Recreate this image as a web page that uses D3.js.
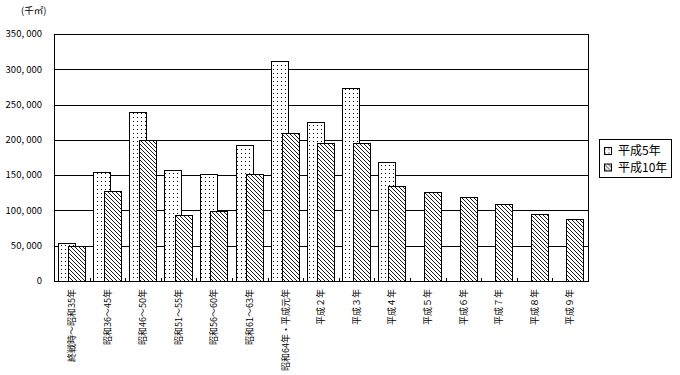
<!DOCTYPE html>
<html>
<head>
<meta charset="utf-8">
<title>chart</title>
<script src="https://cdn.jsdelivr.net/npm/d3@7/dist/d3.min.js"></script>
<style>
  body { margin: 0; background: #fff; }
  text { font-family: "Noto Sans CJK JP", sans-serif; fill: #000; }
</style>
</head>
<body>
<script>
// カテゴリ
var categories = ["終戦時～昭和35年", "昭和36～45年", "昭和46～50年", "昭和51～55年", "昭和56～60年",
  "昭和61～63年", "昭和64年・平成元年", "平成２年", "平成３年", "平成４年",
  "平成５年", "平成６年", "平成７年", "平成８年", "平成９年"];
var seriesNames = ["平成5年", "平成10年"];
// 平成5年 (dotted)
var h5 = [54000, 155000, 239000, 157000, 151000, 193000, 312000, 225000, 273000, 168000,
  null, null, null, null, null];
// 平成10年 (hatched)
var h10 = [49000, 128000, 199500, 93500, 98500, 152000, 210000, 195000, 195000, 134000,
  126000, 119000, 108500, 94500, 87500];
var yTicks = [0, 50000, 100000, 150000, 200000, 250000, 300000, 350000];
var unitLabel = "(千㎡)";

var W = 680, H = 375;
var plot = {left: 54, right: 588, top: 34, bottom: 281};

var svg = d3.select("body").append("svg").attr("width", W).attr("height", H);

var defs = svg.append("defs");
var dots = defs.append("pattern").attr("id", "dots")
  .attr("patternUnits", "userSpaceOnUse").attr("width", 4).attr("height", 4);
dots.append("rect").attr("width", 4).attr("height", 4).attr("fill", "#fff");
dots.append("rect").attr("x", 1).attr("y", 1).attr("width", 1).attr("height", 1).attr("fill", "#000");

var hatch = defs.append("pattern").attr("id", "hatch")
  .attr("patternUnits", "userSpaceOnUse").attr("width", 4).attr("height", 4);
hatch.append("rect").attr("width", 4).attr("height", 4).attr("fill", "#fff");
hatch.append("path").attr("d", "M-1,-1L5,5M3,-1L5,1M-1,3L1,5")
  .attr("stroke", "#000").attr("stroke-width", 0.9);

var x = d3.scaleBand().domain(categories).range([plot.left, plot.right]).padding(0);
var y = d3.scaleLinear().domain([0, 350000]).range([plot.bottom, plot.top]);
var bw = x.bandwidth();

// gridlines
svg.append("g").selectAll("line").data(yTicks).enter().append("line")
  .attr("x1", plot.left).attr("x2", plot.right)
  .attr("y1", function(d){ return Math.round(y(d)) + 0.5; })
  .attr("y2", function(d){ return Math.round(y(d)) + 0.5; })
  .attr("stroke", "#000").attr("stroke-width", 1);

// y tick labels
svg.append("g").selectAll("text").data(yTicks).enter().append("text")
  .attr("x", 42).attr("y", function(d){ return y(d); })
  .attr("dy", "0.35em")
  .attr("text-anchor", "end")
  .attr("font-size", 9.5)
  .text(function(d){ return d3.format(",")(d).replace(/,/g, ", "); });

// bars 平成5年
svg.append("g").selectAll("rect").data(h5).enter()
  .filter(function(d){ return d != null; })
  .append("rect")
  .attr("x", function(d, i){ return Math.round(x(categories[h5.indexOf(d)]) + bw * 0.1) + 0.5; })
  .attr("y", function(d){ return Math.round(y(d)) + 0.5; })
  .attr("width", Math.round(bw * 0.47))
  .attr("height", function(d){ return Math.round(y(0)) - Math.round(y(d)); })
  .attr("fill", "url(#dots)").attr("stroke", "#000").attr("stroke-width", 1);

// bars 平成10年
svg.append("g").selectAll("rect").data(h10).enter().append("rect")
  .attr("x", function(d, i){ return Math.round(x(categories[i]) + bw * 0.395) + 0.5; })
  .attr("y", function(d){ return Math.round(y(d)) + 0.5; })
  .attr("width", Math.round(bw * 0.47))
  .attr("height", function(d){ return Math.round(y(0)) - Math.round(y(d)); })
  .attr("fill", "url(#hatch)").attr("stroke", "#000").attr("stroke-width", 1);

// plot border (left / right / bottom)
svg.append("line").attr("x1", plot.left + 0.5).attr("x2", plot.left + 0.5)
  .attr("y1", y(350000)).attr("y2", y(0) + 1).attr("stroke", "#000");
svg.append("line").attr("x1", plot.right + 0.5).attr("x2", plot.right + 0.5)
  .attr("y1", y(350000)).attr("y2", y(0) + 1).attr("stroke", "#000");

// x ticks (inside, at category boundaries)
svg.append("g").selectAll("line").data(categories.slice(1)).enter().append("line")
  .attr("x1", function(d){ return Math.round(x(d)) + 0.5; })
  .attr("x2", function(d){ return Math.round(x(d)) + 0.5; })
  .attr("y1", Math.round(y(0)) - 3).attr("y2", Math.round(y(0)) + 1)
  .attr("stroke", "#000");

// x labels (rotated)
svg.append("g").selectAll("text").data(categories).enter().append("text")
  .attr("transform", function(d){
    return "translate(" + (x(d) + bw / 2) + "," + 289 + ") rotate(-90)";
  })
  .attr("text-anchor", "end")
  .attr("dy", "0.35em")
  .attr("font-size", 9)
  .text(function(d){ return d; });

// unit
svg.append("text").attr("x", 21).attr("y", 11).attr("dy", "0.35em")
  .attr("font-size", 9.5).text(unitLabel);

// legend
var lg = svg.append("g").attr("transform", "translate(599.5,139.5)");
lg.append("rect").attr("width", 72).attr("height", 38)
  .attr("fill", "#fff").attr("stroke", "#000");
var fills = ["url(#dots)", "url(#hatch)"];
seriesNames.forEach(function(n, i){
  var cy = 11.5 + i * 16.5;
  lg.append("rect").attr("x", 5).attr("y", cy - 3.5).attr("width", 7).attr("height", 7)
    .attr("fill", fills[i]).attr("stroke", "#000");
  lg.append("text").attr("x", 18.5).attr("y", cy).attr("dy", "0.35em")
    .attr("font-size", 12).text(n);
});
</script>
</body>
</html>
